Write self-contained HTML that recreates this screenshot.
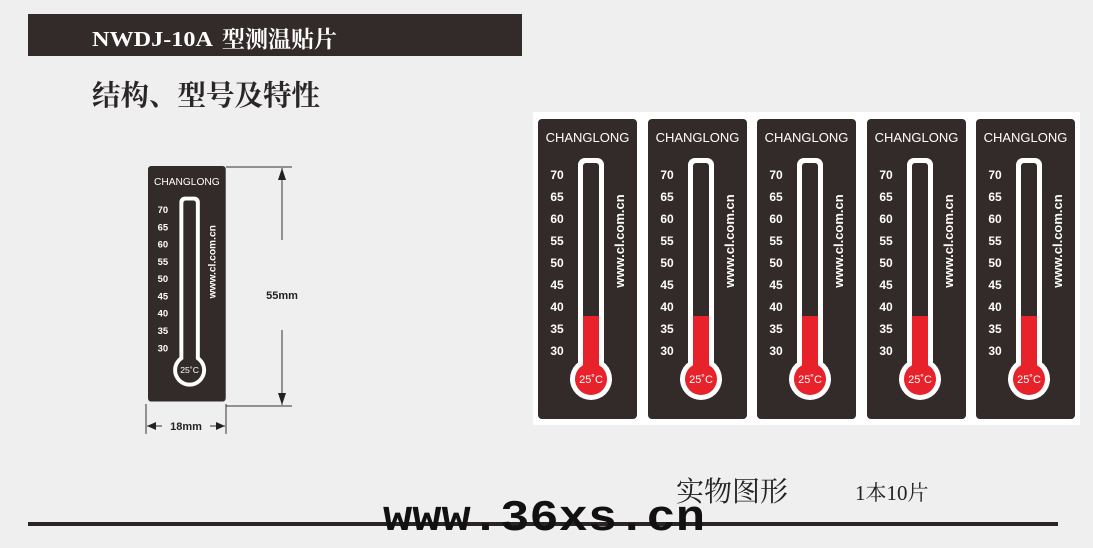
<!DOCTYPE html>
<html><head><meta charset="utf-8"><style>
html,body{margin:0;padding:0;background:#efeff0;}
svg{display:block;}
.s{font-family:"Liberation Serif","Noto Serif CJK SC",serif;font-weight:bold;}
.n{font-family:"Liberation Serif","Noto Serif CJK SC",serif;font-weight:normal;}
.a{font-family:"Liberation Sans",sans-serif;}
</style></head><body>
<svg width="1093" height="548" viewBox="0 0 1093 548" xmlns="http://www.w3.org/2000/svg">
<rect x="28" y="14" width="494" height="42" fill="#332b29"/>
<text class="s" x="92" y="46" font-size="21" fill="#fff" textLength="121" lengthAdjust="spacingAndGlyphs">NWDJ-10A</text>
<text class="s" x="222" y="47" font-size="23" fill="#fff">型测温贴片</text>
<text class="s" x="92" y="105" font-size="28.5" fill="#2a2626">结构、型号及特性</text>

<!-- small card -->
<g transform="translate(148,166) scale(0.785)">
<rect x="0" y="0" width="99" height="300" rx="4" fill="#332b29"/>
<text class="a" x="49.5" y="24" font-size="13" fill="#fff" text-anchor="middle">CHANGLONG</text>
<rect x="40" y="39" width="26" height="215" rx="7" fill="#fff"/>
<circle cx="53" cy="260" r="21" fill="#fff"/>
<rect x="45" y="44" width="16" height="215" rx="3" fill="#332b29"/>
<circle cx="53" cy="260" r="16" fill="#332b29"/>
<text class="a" x="53" y="264" font-size="11" fill="#fff" text-anchor="middle">25˚C</text>
<g class="a" font-size="12" font-weight="bold" fill="#fff" text-anchor="middle">
<text x="19" y="60">70</text><text x="19" y="82">65</text><text x="19" y="104">60</text><text x="19" y="126">55</text><text x="19" y="148">50</text><text x="19" y="170">45</text><text x="19" y="192">40</text><text x="19" y="214">35</text><text x="19" y="236">30</text></g>
<text class="a" transform="translate(86,122) rotate(-90)" font-size="13" font-weight="bold" fill="#fff" text-anchor="middle">www.cl.com.cn</text>
</g>
<!-- dimensions -->
<g stroke="#333" stroke-width="1" fill="none">
<line x1="226" y1="167" x2="292" y2="167"/><line x1="226" y1="406" x2="292" y2="406"/>
<line x1="282" y1="168" x2="282" y2="240"/><line x1="282" y1="330" x2="282" y2="405"/>
<line x1="146" y1="404" x2="146" y2="434"/><line x1="226" y1="404" x2="226" y2="434"/>
<line x1="147" y1="426" x2="162" y2="426"/><line x1="210" y1="426" x2="225" y2="426"/>
</g>
<g fill="#222">
<polygon points="282,168 278,180 286,180"/><polygon points="282,405 278,393 286,393"/>
<polygon points="147,426 156,422 156,430"/><polygon points="225,426 216,422 216,430"/>
</g>
<text class="a" x="282" y="299" font-size="11" font-weight="bold" fill="#222" text-anchor="middle">55mm</text>
<text class="a" x="186" y="430" font-size="11" font-weight="bold" fill="#222" text-anchor="middle">18mm</text>

<rect x="533" y="112" width="547" height="313" fill="#fff"/>

<g transform="translate(538,119)">
<rect x="0" y="0" width="99" height="300" rx="4" fill="#332b29"/>
<text class="a" x="49.5" y="23" font-size="13" fill="#fff" text-anchor="middle">CHANGLONG</text>
<rect x="40" y="39" width="26" height="215" rx="7" fill="#fff"/>
<circle cx="53" cy="260" r="21" fill="#fff"/>
<rect x="45" y="44" width="16" height="215" rx="3" fill="#332b29"/>
<rect x="45" y="197" width="16" height="60" fill="#e8222a"/>
<circle cx="53" cy="260" r="16" fill="#e8222a"/>
<text class="a" x="53" y="264" font-size="11" fill="#fff" text-anchor="middle">25˚C</text>
<g class="a" font-size="12" font-weight="bold" fill="#fff" text-anchor="middle">
<text x="19" y="60">70</text><text x="19" y="82">65</text><text x="19" y="104">60</text><text x="19" y="126">55</text><text x="19" y="148">50</text><text x="19" y="170">45</text><text x="19" y="192">40</text><text x="19" y="214">35</text><text x="19" y="236">30</text></g>
<text class="a" transform="translate(86,122) rotate(-90)" font-size="13" font-weight="bold" fill="#fff" text-anchor="middle">www.cl.com.cn</text>
</g>
<g transform="translate(648,119)">
<rect x="0" y="0" width="99" height="300" rx="4" fill="#332b29"/>
<text class="a" x="49.5" y="23" font-size="13" fill="#fff" text-anchor="middle">CHANGLONG</text>
<rect x="40" y="39" width="26" height="215" rx="7" fill="#fff"/>
<circle cx="53" cy="260" r="21" fill="#fff"/>
<rect x="45" y="44" width="16" height="215" rx="3" fill="#332b29"/>
<rect x="45" y="197" width="16" height="60" fill="#e8222a"/>
<circle cx="53" cy="260" r="16" fill="#e8222a"/>
<text class="a" x="53" y="264" font-size="11" fill="#fff" text-anchor="middle">25˚C</text>
<g class="a" font-size="12" font-weight="bold" fill="#fff" text-anchor="middle">
<text x="19" y="60">70</text><text x="19" y="82">65</text><text x="19" y="104">60</text><text x="19" y="126">55</text><text x="19" y="148">50</text><text x="19" y="170">45</text><text x="19" y="192">40</text><text x="19" y="214">35</text><text x="19" y="236">30</text></g>
<text class="a" transform="translate(86,122) rotate(-90)" font-size="13" font-weight="bold" fill="#fff" text-anchor="middle">www.cl.com.cn</text>
</g>
<g transform="translate(757,119)">
<rect x="0" y="0" width="99" height="300" rx="4" fill="#332b29"/>
<text class="a" x="49.5" y="23" font-size="13" fill="#fff" text-anchor="middle">CHANGLONG</text>
<rect x="40" y="39" width="26" height="215" rx="7" fill="#fff"/>
<circle cx="53" cy="260" r="21" fill="#fff"/>
<rect x="45" y="44" width="16" height="215" rx="3" fill="#332b29"/>
<rect x="45" y="197" width="16" height="60" fill="#e8222a"/>
<circle cx="53" cy="260" r="16" fill="#e8222a"/>
<text class="a" x="53" y="264" font-size="11" fill="#fff" text-anchor="middle">25˚C</text>
<g class="a" font-size="12" font-weight="bold" fill="#fff" text-anchor="middle">
<text x="19" y="60">70</text><text x="19" y="82">65</text><text x="19" y="104">60</text><text x="19" y="126">55</text><text x="19" y="148">50</text><text x="19" y="170">45</text><text x="19" y="192">40</text><text x="19" y="214">35</text><text x="19" y="236">30</text></g>
<text class="a" transform="translate(86,122) rotate(-90)" font-size="13" font-weight="bold" fill="#fff" text-anchor="middle">www.cl.com.cn</text>
</g>
<g transform="translate(867,119)">
<rect x="0" y="0" width="99" height="300" rx="4" fill="#332b29"/>
<text class="a" x="49.5" y="23" font-size="13" fill="#fff" text-anchor="middle">CHANGLONG</text>
<rect x="40" y="39" width="26" height="215" rx="7" fill="#fff"/>
<circle cx="53" cy="260" r="21" fill="#fff"/>
<rect x="45" y="44" width="16" height="215" rx="3" fill="#332b29"/>
<rect x="45" y="197" width="16" height="60" fill="#e8222a"/>
<circle cx="53" cy="260" r="16" fill="#e8222a"/>
<text class="a" x="53" y="264" font-size="11" fill="#fff" text-anchor="middle">25˚C</text>
<g class="a" font-size="12" font-weight="bold" fill="#fff" text-anchor="middle">
<text x="19" y="60">70</text><text x="19" y="82">65</text><text x="19" y="104">60</text><text x="19" y="126">55</text><text x="19" y="148">50</text><text x="19" y="170">45</text><text x="19" y="192">40</text><text x="19" y="214">35</text><text x="19" y="236">30</text></g>
<text class="a" transform="translate(86,122) rotate(-90)" font-size="13" font-weight="bold" fill="#fff" text-anchor="middle">www.cl.com.cn</text>
</g>
<g transform="translate(976,119)">
<rect x="0" y="0" width="99" height="300" rx="4" fill="#332b29"/>
<text class="a" x="49.5" y="23" font-size="13" fill="#fff" text-anchor="middle">CHANGLONG</text>
<rect x="40" y="39" width="26" height="215" rx="7" fill="#fff"/>
<circle cx="53" cy="260" r="21" fill="#fff"/>
<rect x="45" y="44" width="16" height="215" rx="3" fill="#332b29"/>
<rect x="45" y="197" width="16" height="60" fill="#e8222a"/>
<circle cx="53" cy="260" r="16" fill="#e8222a"/>
<text class="a" x="53" y="264" font-size="11" fill="#fff" text-anchor="middle">25˚C</text>
<g class="a" font-size="12" font-weight="bold" fill="#fff" text-anchor="middle">
<text x="19" y="60">70</text><text x="19" y="82">65</text><text x="19" y="104">60</text><text x="19" y="126">55</text><text x="19" y="148">50</text><text x="19" y="170">45</text><text x="19" y="192">40</text><text x="19" y="214">35</text><text x="19" y="236">30</text></g>
<text class="a" transform="translate(86,122) rotate(-90)" font-size="13" font-weight="bold" fill="#fff" text-anchor="middle">www.cl.com.cn</text>
</g>

<text class="n" x="676" y="501" font-size="28" fill="#222">实物图形</text>
<text class="n" x="855" y="500" font-size="21" fill="#222">1本10片</text>
<rect x="28" y="522" width="1030" height="4" fill="#2a2424"/>
<text x="383" y="530" font-family="Liberation Mono, monospace" font-weight="bold" font-size="44" fill="#111" textLength="322" lengthAdjust="spacingAndGlyphs">www.36xs.cn</text>
</svg>
</body></html>
